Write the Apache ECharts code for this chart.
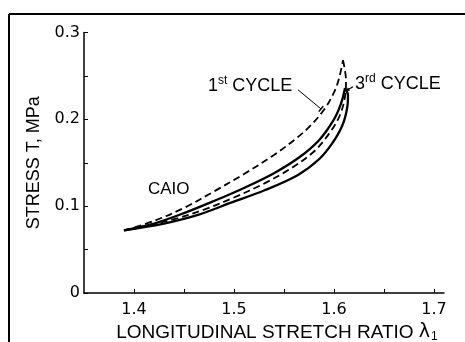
<!DOCTYPE html>
<html><head><meta charset="utf-8">
<script src="https://cdn.jsdelivr.net/npm/echarts@6/dist/echarts.min.js"></script>
<style>html,body{margin:0;padding:0;background:#fff}#c{width:465px;height:342px}</style>
</head><body><div id="c"></div>
<script>
// ---- tick labels ----
const xTickValues = [1.4, 1.5, 1.6, 1.7];
const xTickLabels = ['1.4', '1.5', '1.6', '1.7'];
const yTickValues = [0, 0.1, 0.2, 0.3];
const yTickLabels = ['0', '0.1', '0.2', '0.3'];

// ---- 1st cycle (dashed) ----
const cycle1LoadX = [1.39, 1.42, 1.45, 1.48, 1.51, 1.54, 1.56, 1.575, 1.59, 1.60, 1.605, 1.609];
const cycle1LoadY = [0.072, 0.083, 0.098, 0.117, 0.137, 0.159, 0.176, 0.191, 0.211, 0.231, 0.247, 0.268];
const cycle1UnloadX = [1.609, 1.612, 1.611, 1.606, 1.596, 1.58, 1.555, 1.53, 1.50, 1.47, 1.44, 1.41, 1.39];
const cycle1UnloadY = [0.268, 0.245, 0.226, 0.205, 0.185, 0.163, 0.142, 0.126, 0.110, 0.096, 0.085, 0.077, 0.072];

// ---- 3rd cycle (solid) ----
const cycle3LoadX = [1.39, 1.42, 1.45, 1.48, 1.51, 1.54, 1.565, 1.585, 1.60, 1.607, 1.611];
const cycle3LoadY = [0.072, 0.080, 0.092, 0.106, 0.121, 0.138, 0.156, 0.176, 0.200, 0.218, 0.236];
const cycle3UnloadX = [1.611, 1.614, 1.613, 1.608, 1.598, 1.585, 1.564, 1.53, 1.497, 1.464, 1.43, 1.40, 1.39];
const cycle3UnloadY = [0.236, 0.228, 0.212, 0.192, 0.172, 0.154, 0.136, 0.118, 0.104, 0.090, 0.080, 0.074, 0.072];

function zip(xs, ys) { return xs.map((x, i) => [x, ys[i]]); }
function tickLabel(v, vals, labels) {
  for (let i = 0; i < vals.length; i++) if (Math.abs(v - vals[i]) < 1e-6) return labels[i];
  return '';
}

const chart = echarts.init(document.getElementById('c'), null, { renderer: 'canvas' });
const black = '#000';
const tickFont = { fontFamily: 'DejaVu Sans', fontSize: 16, color: black };

function lineSeries(name, xs, ys, dashed) {
  return {
    name, type: 'line', data: zip(xs, ys), smooth: 0.35, showSymbol: false, symbol: 'none',
    lineStyle: { color: black, width: dashed ? 1.8 : 2.3, type: dashed ? [7, 4] : 'solid' },
    silent: true, animation: false
  };
}

chart.setOption({
  animation: false,
  backgroundColor: '#fff',
  grid: { left: 84, right: 21, top: 32.5, bottom: 49, containLabel: false, outerBoundsMode: 'none' },
  xAxis: {
    type: 'value', min: 1.35, max: 1.71, interval: 0.05,
    axisLine: { show: true, lineStyle: { color: black, width: 1.5 } },
    axisTick: { show: true, inside: true, length: 4, lineStyle: { color: black, width: 1 } },
    axisLabel: { ...tickFont, margin: 9, showMaxLabel: false, showMinLabel: false,
      formatter: v => tickLabel(v, xTickValues, xTickLabels) },
    splitLine: { show: false },
    name: 'LONGITUDINAL STRETCH RATIO {l|λ}{s|1}',
    nameLocation: 'middle', nameGap: 25,
    nameTextStyle: { fontFamily: 'Liberation Sans', fontSize: 19, color: black, padding: [0, 0, 0, 26],
      rich: { l: { fontFamily: 'DejaVu Sans', fontSize: 19, color: black },
              s: { fontFamily: 'Liberation Sans', fontSize: 12, color: black, verticalAlign: 'bottom', padding: [9, 0, 0, 1] } } }
  },
  yAxis: {
    type: 'value', min: 0, max: 0.3, interval: 0.05,
    axisLine: { show: true, lineStyle: { color: black, width: 1.5 } },
    axisTick: { show: true, inside: true, length: 4, lineStyle: { color: black, width: 1 } },
    axisLabel: { ...tickFont, margin: 4, formatter: v => tickLabel(v, yTickValues, yTickLabels) },
    splitLine: { show: false },
    name: 'STRESS T, MPa', nameLocation: 'middle', nameGap: 41, nameRotate: 90,
    nameTextStyle: { fontFamily: 'Liberation Sans', fontSize: 18, color: black }
  },
  series: [
    lineSeries('1st cycle loading', cycle1LoadX, cycle1LoadY, true),
    lineSeries('1st cycle unloading', cycle1UnloadX, cycle1UnloadY, true),
    lineSeries('3rd cycle loading', cycle3LoadX, cycle3LoadY, false),
    lineSeries('3rd cycle unloading', cycle3UnloadX, cycle3UnloadY, false)
  ]
});

// ---- annotations, anchored in data space ----
const P = (x, y) => chart.convertToPixel({ xAxisIndex: 0, yAxisIndex: 0 }, [x, y]);
const annFont = 'Liberation Sans';
const richSup = {
  n: { fontFamily: annFont, fontSize: 18, color: black, lineHeight: 20, verticalAlign: 'bottom' },
  sup: { fontFamily: annFont, fontSize: 12, color: black, verticalAlign: 'top', lineHeight: 20 }
};
const t1 = P(1.474, 0.2396), t3 = P(1.621, 0.242), tc = P(1.414, 0.1198);
const a1s = P(1.564, 0.234), a1e = P(1.587, 0.212);
const a3s = P(1.619, 0.2375), a3e = P(1.6115, 0.2325);
const dx = a1e[0] - a1s[0], dy = a1e[1] - a1s[1], L = Math.hypot(dx, dy);
const px = -dy / L * 3.5, py = dx / L * 3.5;
const ux = (a3e[0] - a3s[0]), uy = (a3e[1] - a3s[1]), ul = Math.hypot(ux, uy);
const nx = ux / ul, ny = uy / ul;

chart.setOption({
  graphic: [
    { type: 'line', id: 'frameLeft', shape: { x1: 9, y1: 14, x2: 9, y2: 342 }, style: { stroke: black, lineWidth: 2 }, silent: true },
    { type: 'line', id: 'frameTop', shape: { x1: 9, y1: 14, x2: 465, y2: 14 }, style: { stroke: black, lineWidth: 2 }, silent: true },
    { type: 'text', id: 'ann1', x: t1[0], y: t1[1], style: { text: '{n|1}{sup|st}{n| CYCLE}', rich: richSup, align: 'left', verticalAlign: 'middle' } },
    { type: 'text', id: 'ann3', x: t3[0], y: t3[1], style: { text: '{n|3}{sup|rd}{n| CYCLE}', rich: richSup, align: 'left', verticalAlign: 'middle' } },
    { type: 'text', id: 'annC', x: tc[0], y: tc[1], style: { text: 'CAIO', fontFamily: annFont, fontSize: 17, fill: black, align: 'left', verticalAlign: 'middle' } },
    { type: 'line', id: 'lead1', shape: { x1: a1s[0], y1: a1s[1], x2: a1e[0], y2: a1e[1] }, style: { stroke: black, lineWidth: 1 } },
    { type: 'line', id: 'lead1bar', shape: { x1: a1e[0] - px, y1: a1e[1] - py, x2: a1e[0] + px, y2: a1e[1] + py }, style: { stroke: black, lineWidth: 1.5 } },
    { type: 'line', id: 'lead3', shape: { x1: a3s[0], y1: a3s[1], x2: a3e[0], y2: a3e[1] }, style: { stroke: black, lineWidth: 1.2 } },
    { type: 'polygon', id: 'lead3head', shape: { points: [
        [a3e[0], a3e[1]],
        [a3e[0] - nx * 4 - ny * 2, a3e[1] - ny * 4 + nx * 2],
        [a3e[0] - nx * 4 + ny * 2, a3e[1] - ny * 4 - nx * 2]
      ] }, style: { fill: black } }
  ]
});
</script>
</body></html>
